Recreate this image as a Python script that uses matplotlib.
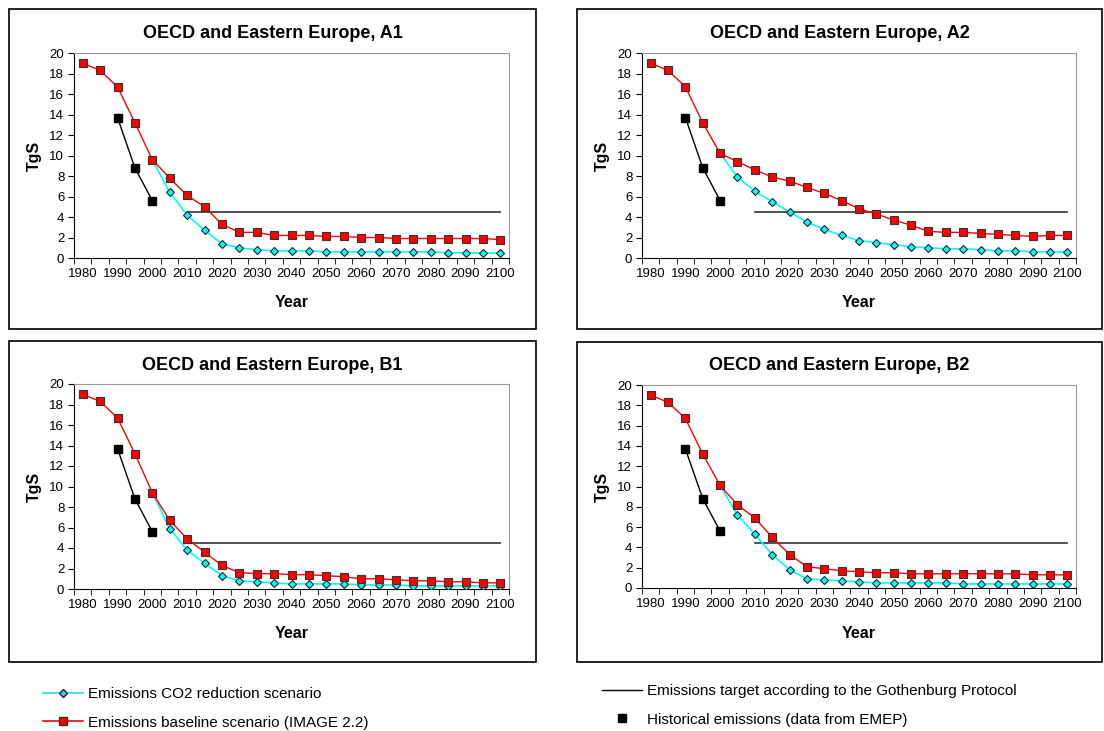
import numpy as np
import matplotlib
matplotlib.use("Agg")
import matplotlib.pyplot as plt
from matplotlib.lines import Line2D
from matplotlib.patches import Rectangle

plt.rcParams['font.family'] = ['Liberation Sans', 'DejaVu Sans']

# data
years = np.arange(1980, 2101, 5)
co2_years = np.arange(2000, 2101, 5)
hist_years = [1990, 1995, 2000]
hist = [13.7, 8.8, 5.6]
target_years = [2010, 2100]
target = 4.45

a1_base = [19.0, 18.3, 16.7, 13.2, 9.6, 7.8, 6.1, 5.0, 3.3, 2.5, 2.5, 2.2, 2.2,
           2.2, 2.1, 2.1, 2.0, 2.0, 1.9, 1.9, 1.9, 1.9, 1.9, 1.9, 1.8]
a1_co2 = [9.6, 6.4, 4.2, 2.7, 1.4, 1.0, 0.8, 0.7, 0.7, 0.7, 0.6, 0.6, 0.6,
          0.6, 0.6, 0.6, 0.6, 0.5, 0.5, 0.5, 0.5]
a2_base = [19.0, 18.3, 16.7, 13.2, 10.2, 9.4, 8.6, 7.9, 7.5, 6.9, 6.3, 5.6, 4.8,
           4.3, 3.7, 3.2, 2.6, 2.5, 2.5, 2.4, 2.3, 2.2, 2.1, 2.2, 2.2]
a2_co2 = [10.2, 7.9, 6.5, 5.5, 4.5, 3.5, 2.8, 2.2, 1.7, 1.5, 1.3, 1.1, 1.0,
          0.9, 0.9, 0.8, 0.7, 0.7, 0.6, 0.6, 0.6]
b1_base = [19.0, 18.3, 16.7, 13.2, 9.4, 6.7, 4.9, 3.6, 2.3, 1.6, 1.5, 1.5, 1.4,
           1.4, 1.3, 1.2, 1.0, 1.0, 0.9, 0.8, 0.8, 0.7, 0.7, 0.6, 0.6]
b1_co2 = [9.4, 5.9, 3.8, 2.5, 1.3, 0.8, 0.7, 0.6, 0.5, 0.5, 0.5, 0.5, 0.4,
          0.4, 0.4, 0.3, 0.3, 0.3, 0.3, 0.3, 0.3]
b2_base = [19.0, 18.3, 16.7, 13.2, 10.1, 8.2, 6.9, 5.0, 3.3, 2.1, 1.9, 1.7, 1.6,
           1.5, 1.5, 1.4, 1.4, 1.4, 1.4, 1.4, 1.4, 1.4, 1.3, 1.3, 1.3]
b2_co2 = [10.1, 7.2, 5.3, 3.3, 1.8, 0.9, 0.8, 0.7, 0.6, 0.5, 0.5, 0.5, 0.5,
          0.5, 0.4, 0.4, 0.4, 0.4, 0.4, 0.4, 0.4]

W, H = 1104, 731
fig = plt.figure(figsize=(W / 100, H / 100), dpi=100)


def fx(x):
    return x / W


def fy(y):
    return 1 - y / H


def panel(name, base, co2, ax_px, frame_px):
    l, t, r, b = ax_px
    fl, ft, fr, fb = frame_px
    fig.patches.append(Rectangle((fx(fl), fy(fb)), fx(fr - fl), (fb - ft) / H,
                                 transform=fig.transFigure, fill=False, ec='black', lw=1.2))
    ax = fig.add_axes([fx(l), fy(b), fx(r - l), (b - t) / H])
    ax.plot(target_years, [target, target], color='#333333', lw=1.2, zorder=2)
    ax.plot(co2_years, co2, color='#00FFFF', lw=1.2, marker='D', ms=4.5,
            mfc='#00FFFF', mec='#222222', mew=0.8, zorder=3)
    ax.plot(years, base, color='#FF0000', lw=1.0, marker='s', ms=6,
            mfc='#FF0000', mec='#333333', mew=0.8, zorder=4)
    ax.plot(hist_years, hist, color='black', lw=1.0, marker='s', ms=6,
            mfc='black', mec='black', zorder=5)
    ax.set_xlim(1977.5, 2102.5)
    ax.set_ylim(0, 20)
    ax.set_yticks(np.arange(0, 21, 2))
    ax.set_xticks(np.arange(1980, 2101, 10))
    ax.set_xticks(np.arange(1977.5, 2103, 5), minor=True)
    ax.tick_params(axis='x', which='major', length=0, pad=7, labelsize=9.5)
    ax.tick_params(axis='x', which='minor', length=4, direction='out')
    ax.tick_params(axis='y', length=4, direction='out', pad=3, labelsize=9.5)
    for s in ('top', 'right'):
        ax.spines[s].set_color('#999999')
    for s in ('left', 'bottom'):
        ax.spines[s].set_color('black')
    ax.set_facecolor('white')
    fig.text(fx((fl + fr) / 2), fy(ft + 24), 'OECD and Eastern Europe, ' + name,
             ha='center', va='center', fontsize=13, fontweight='bold')
    fig.text(fx((l + r) / 2), fy(b + 45), 'Year', ha='center', va='center',
             fontsize=11.5, fontweight='bold')
    fig.text(fx(l - 40), fy((t + b) / 2), 'TgS', ha='center', va='center',
             fontsize=11.5, fontweight='bold', rotation=90)
    return ax


panel('A1', a1_base, a1_co2, (74, 53, 509, 258), (9, 9, 536, 329))
panel('A2', a2_base, a2_co2, (642, 53, 1076, 258), (577, 9, 1102, 329))
panel('B1', b1_base, b1_co2, (74, 384, 509, 589), (9, 341, 536, 662))
panel('B2', b2_base, b2_co2, (642, 385, 1076, 588), (577, 342, 1102, 662))

h_co2 = Line2D([], [], color='#33CCFF', lw=1.2, marker='D', ms=4.5, mfc='#33CCFF', mec='#222222')
h_base = Line2D([], [], color='#FF0000', lw=1.2, marker='s', ms=6, mfc='#FF0000', mec='#333333')
h_target = Line2D([], [], color='black', lw=1.0)
h_hist = Line2D([], [], color='black', lw=0, marker='s', ms=6)

leg1 = fig.legend([h_co2, h_base],
                  ['Emissions CO2 reduction scenario', 'Emissions baseline scenario (IMAGE 2.2)'],
                  loc='upper left', bbox_to_anchor=(fx(43), fy(687)), frameon=False,
                  fontsize=11, handlelength=2.6, handletextpad=0.35, labelspacing=0.95,
                  borderpad=0, borderaxespad=0)
leg2 = fig.legend([h_target, h_hist],
                  ['Emissions target according to the Gothenburg Protocol',
                   'Historical emissions (data from EMEP)'],
                  loc='upper left', bbox_to_anchor=(fx(602), fy(684)), frameon=False,
                  fontsize=11, handlelength=2.6, handletextpad=0.35, labelspacing=0.95,
                  borderpad=0, borderaxespad=0)

fig.savefig('out.png', dpi=100)
